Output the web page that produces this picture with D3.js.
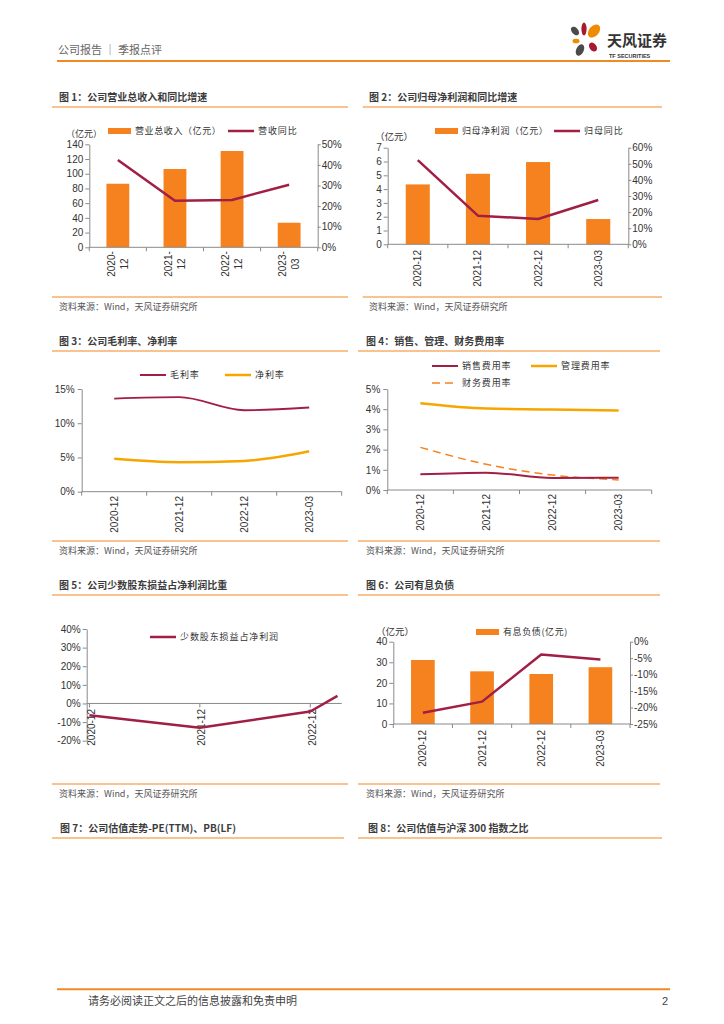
<!DOCTYPE html>
<html><head><meta charset="utf-8">
<script src="https://cdn.jsdelivr.net/npm/d3@7"></script>
<style>body{margin:0;background:#fff}svg{display:block}</style>
</head><body><svg id="c" width="724" height="1024"></svg>
<script>
// ---------------- data ----------------
const categories = ["2020-12","2021-12","2022-12","2023-03"];
const wrappedLabels = [["2020-","12"],["2021-","12"],["2022-","12"],["2023-","03"]];
const revenue = [86.4,106.4,130.9,33.4];          // 营业总收入（亿元）
const revenueYoY = [42.4,22.6,23.0,30.4];         // 营收同比 %
const netProfit = [4.34,5.11,5.96,1.83];          // 归母净利润（亿元）
const netProfitYoY = [52.3,17.8,15.7,27.5];       // 归母同比 %
const grossMargin = [13.6,13.8,11.9,12.3];        // 毛利率 %
const netMargin = [4.8,4.3,4.5,5.9];              // 净利率 %
const salesExp = [0.78,0.86,0.59,0.61];           // 销售费用率 %
const mgmtExp = [4.29,4.03,3.99,3.93];            // 管理费用率 %
const finExp = [2.11,1.27,0.74,0.50];             // 财务费用率 %
const minorityDates = ["2020-12-31","2021-12-31","2022-12-31","2023-03-31"];
const minorityShare = [-6.3,-13.1,-4.3,4.1];      // 少数股东损益占净利润 %
const debt = [31.1,25.6,24.3,27.6];               // 有息负债（亿元）
const debtYoY = [-21.6,-18.2,-3.9,-5.4];          // 有息负债同比 %
const ticks1L = [0,20,40,60,80,100,120,140], ticks1R = [0,10,20,30,40,50];
const ticks2L = [0,1,2,3,4,5,6,7], ticks2R = [0,10,20,30,40,50,60];
const ticks3 = [0,5,10,15], ticks4 = [0,1,2,3,4,5];
const ticks5 = [-20,-10,0,10,20,30,40];
const ticks6L = [0,10,20,30,40], ticks6R = [-25,-20,-15,-10,-5,0];

// ---------------- style ----------------
const AX = "#8a8a8a", BAR = "#F5821F", RED = "#A11E45", GOLD = "#F7A600", TL = "#F8AE6A";
const CJK = '"Noto Sans CJK SC","Noto Sans",sans-serif';
const LAT = '"Liberation Sans",Arial,sans-serif';
const pct = d => d + "%";
const svg = d3.select("#c");

function txt(x, y, s, size, fill, opts = {}) {
  const t = svg.append("text").attr("x", x).attr("y", y).text(s)
    .style("font-size", size + "px").style("font-family", opts.font || CJK)
    .attr("fill", fill);
  if (opts.weight) t.style("font-weight", opts.weight);
  if (opts.anchor) t.attr("text-anchor", opts.anchor);
  if (opts.ls) t.style("letter-spacing", opts.ls + "px");
  return t;
}
function hline(x1, x2, y, color, w) {
  svg.append("line").attr("x1", x1).attr("x2", x2).attr("y1", y).attr("y2", y)
    .attr("stroke", color).attr("stroke-width", w);
}
function styleAxis(g) {
  g.select(".domain").attr("stroke", AX);
  g.selectAll(".tick line").attr("stroke", AX);
  g.selectAll(".tick text").attr("fill", "#333").style("font-size", "10px").style("font-family", LAT);
}
function axisL(y, x, ticks, fmt, pad = 2) {
  const g = svg.append("g").attr("transform", `translate(${x},0)`)
    .call(d3.axisLeft(y).tickValues(ticks).tickFormat(fmt).tickSize(4).tickSizeOuter(0).tickPadding(pad));
  styleAxis(g);
}
function axisR(y, x, ticks, fmt) {
  const g = svg.append("g").attr("transform", `translate(${x},0)`)
    .call(d3.axisRight(y).tickValues(ticks).tickFormat(fmt).tickSize(3).tickSizeOuter(0).tickPadding(1));
  styleAxis(g);
}
function bandAxis(x, yPos) {
  const [a, b] = x.range();
  svg.append("line").attr("x1", a).attr("x2", b).attr("y1", yPos).attr("y2", yPos).attr("stroke", AX);
  categories.map(c => x(c)).concat([b]).forEach(p =>
    svg.append("line").attr("x1", p).attr("x2", p).attr("y1", yPos).attr("y2", yPos + 4).attr("stroke", AX));
}
function rotLabels(xs, yTop, labels) {
  labels.forEach((l, i) => {
    svg.append("text").attr("transform", `translate(${xs[i]},${yTop}) rotate(-90)`)
      .attr("text-anchor", "end").attr("dy", "0.35em").text(l)
      .style("font-size", "10px").style("font-family", LAT).attr("fill", "#333");
  });
}
function band(x0, x1) { return d3.scaleBand().domain(categories).range([x0, x1]).padding(0); }
function centers(x) { return categories.map(c => x(c) + x.bandwidth() / 2); }
function bars(x, y, vals) {
  const w = x.bandwidth() * 0.4;
  svg.append("g").selectAll("rect").data(vals).join("rect")
    .attr("x", (d, i) => x(categories[i]) + x.bandwidth() / 2 - w / 2)
    .attr("y", d => y(d)).attr("width", w).attr("height", d => y(0) - y(d)).attr("fill", BAR);
}
function line(xs, y, vals, color, w, curve, dash) {
  const p = svg.append("path").datum(vals)
    .attr("d", d3.line().x((d, i) => xs[i]).y(d => y(d)).curve(curve || d3.curveLinear))
    .attr("fill", "none").attr("stroke", color).attr("stroke-width", w).attr("stroke-linejoin", "round");
  if (dash) p.attr("stroke-dasharray", dash);
}
function legRect(x, y, label) {
  svg.append("rect").attr("x", x).attr("y", y - 3).attr("width", 23).attr("height", 6).attr("fill", BAR);
  txt(x + 27, y + 3.2, label, 9, "#333", { ls: 0.6 });
}
function legLine(x, y, label, color, w, dash) {
  const l = svg.append("line").attr("x1", x).attr("x2", x + 26).attr("y1", y).attr("y2", y)
    .attr("stroke", color).attr("stroke-width", w);
  if (dash) l.attr("stroke-dasharray", dash);
  txt(x + 30, y + 3.2, label, 9, "#333", { ls: 0.9 });
}
function figTitle(x, y, s, lx1, lx2) {
  txt(x, y + 3.5, s, 10, "#3c3c3c", { weight: "bold" });
  hline(lx1, lx2, y + 10, TL, 1.5);
}
function source(x, y, lx1, lx2) {
  hline(lx1, lx2, y - 10, TL, 1.5);
  txt(x, y + 3.2, "资料来源：Wind，天风证券研究所", 9, "#555");
}

// ---------------- header / footer ----------------
txt(58, 54, "公司报告 ｜ 季报点评", 11, "#666");
hline(57, 670, 61, "#F08A24", 2);
const petals = [
  [584, 29, 2.6, 6.5, 0, "#A6192E"], [575, 31, 3.2, 5, -40, "#4a4a4a"],
  [594, 31, 5, 7.5, 40, "#F08A00"], [576, 41, 3.5, 2.3, 0, "#F08A00"],
  [593, 47, 3.5, 5, -35, "#A6192E"], [580, 50, 3.8, 6, 25, "#4a4a4a"]];
petals.forEach(p => svg.append("ellipse").attr("cx", p[0]).attr("cy", p[1]).attr("rx", p[2]).attr("ry", p[3])
  .attr("transform", `rotate(${p[4]},${p[0]},${p[1]})`).attr("fill", p[5]));
txt(607, 46, "天风证券", 15, "#333", { weight: "bold" });
txt(609, 57.5, "TF SECURITIES", 5.5, "#333", { font: LAT, weight: "bold" });
hline(57, 670, 989.3, "#F08A24", 2);
txt(88, 1005, "请务必阅读正文之后的信息披露和免责申明", 11, "#444");
txt(662, 1005, "2", 11, "#444", { font: LAT });

// ---------------- Fig 1 ----------------
figTitle(59, 97, "图 1：公司营业总收入和同比增速", 52, 348);
{
  const x = band(89.3, 317.7);
  const y = d3.scaleLinear().domain([0, 140]).range([247.3, 144.3]);
  const y2 = d3.scaleLinear().domain([0, 50]).range([247.3, 144.3]);
  bars(x, y, revenue);
  line(centers(x), y2, revenueYoY, RED, 2.5);
  axisL(y, 89.3, ticks1L, d => d);
  axisR(y2, 317.7, ticks1R, pct);
  bandAxis(x, 247.3);
  centers(x).forEach((c, i) => {
    wrappedLabels[i].forEach((s, j) => svg.append("text")
      .attr("transform", `translate(${c + (j ? 6.3 : -6.3)},264) rotate(-90)`)
      .attr("text-anchor", "middle").attr("dy", "0.35em").text(s)
      .style("font-size", "10px").style("font-family", LAT).attr("fill", "#333"));
  });
  legRect(108, 131, "营业总收入（亿元）");
  legLine(228, 131, "营收同比", RED, 2.5);
  txt(66, 137, "（亿元）", 9, "#333");
  source(59, 307, 52, 348);
}

// ---------------- Fig 2 ----------------
figTitle(369, 97, "图 2：公司归母净利润和同比增速", 362.7, 662);
{
  const x = band(387.7, 628.3);
  const y = d3.scaleLinear().domain([0, 7]).range([244.3, 147.7]);
  const y2 = d3.scaleLinear().domain([0, 60]).range([244.3, 147.7]);
  bars(x, y, netProfit);
  line(centers(x), y2, netProfitYoY, RED, 2.5);
  axisL(y, 387.7, ticks2L, d => d);
  axisR(y2, 628.3, ticks2R, pct);
  bandAxis(x, 244.3);
  rotLabels(centers(x), 250, categories);
  legRect(435, 131, "归母净利润（亿元）");
  legLine(554, 131, "归母同比", RED, 2.5);
  txt(375, 140, "（亿元）", 9.5, "#333");
  source(369, 307, 362.7, 662);
}

// ---------------- Fig 3 ----------------
figTitle(59, 341, "图 3：公司毛利率、净利率", 52, 348);
{
  const x = band(81.7, 341.7);
  const y = d3.scaleLinear().domain([0, 15]).range([491.7, 389]);
  line(centers(x), y, grossMargin, RED, 1.8, d3.curveMonotoneX);
  line(centers(x), y, netMargin, GOLD, 2.5, d3.curveMonotoneX);
  axisL(y, 81.7, ticks3, pct, 3);
  bandAxis(x, 491.7);
  rotLabels(centers(x), 496, categories);
  legLine(140, 375, "毛利率", RED, 2);
  legLine(225, 375, "净利率", GOLD, 2.5);
  source(59, 551, 52, 348);
}

// ---------------- Fig 4 ----------------
figTitle(366, 341, "图 4：销售、管理、财务费用率", 358, 660);
{
  const x = band(387.3, 651.7);
  const y = d3.scaleLinear().domain([0, 5]).range([490, 389]);
  line(centers(x), y, mgmtExp, GOLD, 2.5, d3.curveMonotoneX);
  line(centers(x), y, finExp, "#F5821F", 1.5, d3.curveMonotoneX, "8,5");
  line(centers(x), y, salesExp, RED, 2, d3.curveMonotoneX);
  axisL(y, 387.3, ticks4, pct, 3);
  bandAxis(x, 490);
  rotLabels(centers(x), 494, categories);
  legLine(432, 366, "销售费用率", RED, 2);
  legLine(531, 366, "管理费用率", GOLD, 2.5);
  legLine(432, 383, "财务费用率", "#F5821F", 1.5, "8,5");
  source(366, 551, 358, 660);
}

// ---------------- Fig 5 ----------------
figTitle(59, 585, "图 5：公司少数股东损益占净利润比重", 52, 348);
{
  const parse = d3.timeParse("%Y-%m-%d");
  const dates = minorityDates.map(parse);
  const x = d3.scaleTime().domain([parse("2020-12-22"), parse("2023-04-14")]).range([86.7, 341.7]);
  const y = d3.scaleLinear().domain([-20, 40]).range([740.7, 629]);
  const xs = dates.map(d => x(d));
  hline(86.7, 341.7, y(0), AX, 1);
  xs.slice(0, 3).forEach(p => svg.append("line").attr("x1", p).attr("x2", p)
    .attr("y1", y(0)).attr("y2", y(0) + 4).attr("stroke", AX));
  axisL(y, 86.7, ticks5, pct, 2);
  rotLabels(xs.slice(0, 3).map(v => v + 2), 709, categories.slice(0, 3));
  line(xs, y, minorityShare, RED, 2.5);
  legLine(150, 637, "少数股东损益占净利润", RED, 2.5);
  source(59, 794, 52, 348);
}

// ---------------- Fig 6 ----------------
figTitle(366, 585, "图 6：公司有息负债", 358, 660);
{
  const x = band(393.3, 630);
  const y = d3.scaleLinear().domain([0, 40]).range([724, 641.7]);
  const y2 = d3.scaleLinear().domain([-25, 0]).range([724, 641.7]);
  bars(x, y, debt);
  line(centers(x), y2, debtYoY, RED, 2.5);
  axisL(y, 393.3, ticks6L, d => d);
  axisR(y2, 630, ticks6R, pct);
  bandAxis(x, 724);
  rotLabels(centers(x), 730, categories);
  legRect(476, 632, "有息负债(亿元)");
  txt(376, 634.5, "（亿元）", 9.5, "#333");
  source(366, 794, 358, 660);
}

// ---------------- Fig 7 / 8 titles ----------------
figTitle(60, 828, "图 7：公司估值走势-PE(TTM)、PB(LF)", 52, 344);
figTitle(368, 828, "图 8：公司估值与沪深 300 指数之比", 358, 662);
</script>
</body></html>
